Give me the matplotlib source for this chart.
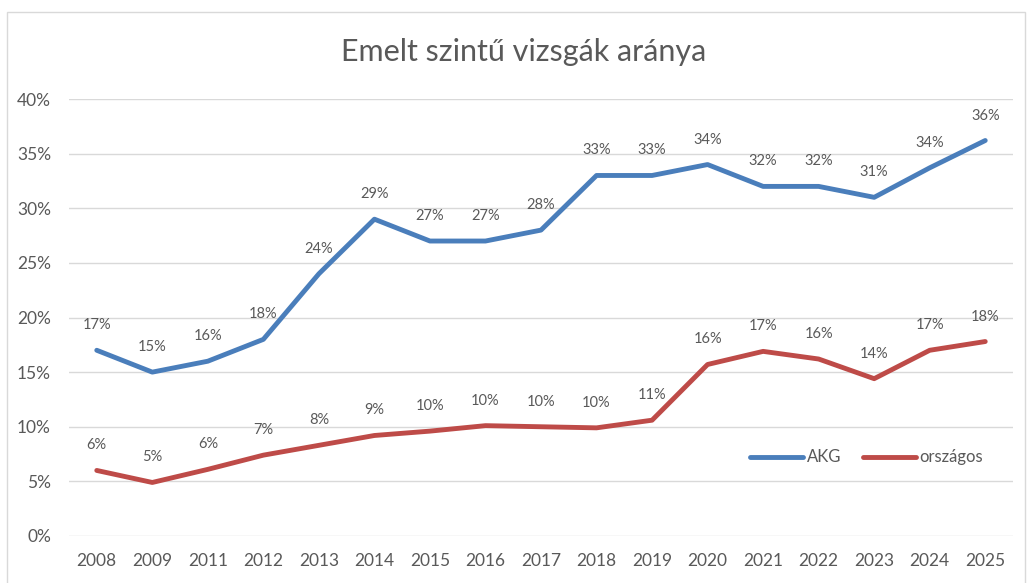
import matplotlib
matplotlib.use("Agg")
import matplotlib.pyplot as plt
from matplotlib.patches import Rectangle
from matplotlib.ticker import FuncFormatter


years = ["2008", "2009", "2011", "2012", "2013", "2014", "2015", "2016", "2017",
         "2018", "2019", "2020", "2021", "2022", "2023", "2024", "2025"]
akg = [17.0, 15.0, 16.0, 18.0, 24.0, 29.0, 27.0, 27.0, 28.0,
       33.0, 33.0, 34.0, 32.0, 32.0, 31.0, 33.7, 36.2]
orszagos = [6.0, 4.9, 6.1, 7.4, 8.3, 9.2, 9.6, 10.1, 10.0,
            9.9, 10.6, 15.7, 16.9, 16.2, 14.4, 17.0, 17.8]

BLUE = "#4a7ebb"
RED = "#be4b48"
TEXT = "#595959"

plt.rcParams["font.family"] = ["Lato", "DejaVu Sans"]

fig = plt.figure(figsize=(10.3, 5.83), dpi=100)
fig.patches.append(Rectangle((7 / 1030, -0.01), 1018 / 1030, 1 - 12 / 583 + 0.01,
                             transform=fig.transFigure, fill=False,
                             edgecolor="#d9d9d9", linewidth=1))
ax = fig.add_axes([69 / 1030, 1 - 536 / 583, 944 / 1030, 437 / 583])

x = list(range(len(years)))
ax.plot(x, akg, color=BLUE, linewidth=3.5, label="AKG", solid_capstyle="round")
ax.plot(x, orszagos, color=RED, linewidth=3.5, label="országos", solid_capstyle="round")

for series in (akg, orszagos):
    for xi, v in zip(x, series):
        ax.annotate(f"{round(v):.0f}%", (xi, v), xytext=(0, 18), textcoords="offset points",
                    ha="center", va="center", fontsize=10.5, color=TEXT)

ax.set_xlim(-0.5, len(years) - 0.5)
ax.set_ylim(0, 40)
ax.set_yticks(range(0, 41, 5))
ax.yaxis.set_major_formatter(FuncFormatter(lambda v, _: f"{v:.0f}%"))
ax.set_xticks(x)
ax.set_xticklabels(years)
ax.tick_params(axis="both", length=0, labelsize=12.5, colors=TEXT)
ax.tick_params(axis="x", pad=12)
ax.tick_params(axis="y", pad=13)

ax.grid(axis="y", color="#d9d9d9", linewidth=1)
ax.set_axisbelow(True)
for s in ax.spines.values():
    s.set_visible(False)

fig.text(0.508, 1 - 52 / 583, "Emelt szintű vizsgák aránya", ha="center", va="center",
         fontsize=22, color=TEXT)

ax.legend(loc="center", bbox_to_anchor=(0.845, 0.18), ncol=2, frameon=False,
          handlelength=3.2, handletextpad=0.2, columnspacing=1.3, fontsize=12,
          labelcolor=TEXT)

fig.savefig("out.png", dpi=100)
